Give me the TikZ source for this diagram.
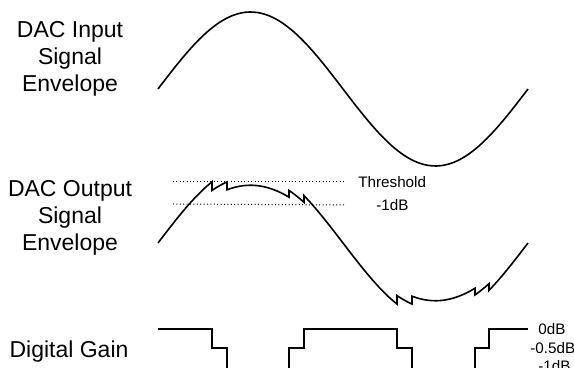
\documentclass[tikz,border=0pt]{standalone}
\usepackage{fontspec}
\setmainfont{Liberation Sans}
\usetikzlibrary{positioning}

\begin{document}
\begin{tikzpicture}[x=0.5pt,y=-0.5pt,
  lab/.style={align=center,font=\fontsize{11.5}{13.6}\selectfont},
  tag/.style={anchor=west,inner sep=0pt,font=\fontsize{7.6}{9}\selectfont},
  wave/.style={line width=0.8pt,line join=miter},
  thr/.style={line width=0.5pt,dash pattern=on 0.5pt off 1.2pt},
  declare function={env(\x,\g,\m)=\m-77*\g*sin((\x-158)/370*360);}]
\useasboundingbox (0,0) rectangle (574,368);
\clip (0,0) rectangle (574,368);
% row labels
\node[lab] (inlab) at (70,59) {DAC Input\\Signal\\Envelope};
\node[lab] (outlab) at (70,218) {DAC Output\\Signal\\Envelope};
\node[lab] (gainlab) at (69,352) {Digital Gain};
% input envelope
\draw[wave] plot[domain=158:528,samples=90,smooth] (\x,{env(\x,1,89)});
% threshold and -1dB levels
\node[tag] (thrlab) at (358,182) {Threshold};
\node[tag] (onedb) at (376,205) {-1dB};
\draw[thr] (173,182) -- ([xshift=-6.5pt]thrlab.west);
\draw[thr] (173,204) -- ([xshift=-15.5pt]onedb.west);
% output envelope, gain steps as jumps
\draw[wave] (158,243) \foreach \a/\b/\g in {158/212/1,212/227/0.86,227/289/0.75,289/304/0.86,304/397/1,397/412/0.86,412/475/0.75,475/489/0.86,489/528/1}{
  -- plot[domain=\a:\b,samples=16] (\x,{env(\x,\g,243)})};
% digital gain
\draw[wave] (158,329) \foreach \x/\y in {212/348,227/371,289/348,304/329,397/348,412/371,475/348,489/329}{ -| (\x,\y)} -- (528,329);
\node[tag] (zerodb) at (538,329) {0dB};
\node[tag] (halfdb) at (530,348) {-0.5dB};
\node[tag] (fulldb) at (538,366) {-1dB};
\end{tikzpicture}
\end{document}
